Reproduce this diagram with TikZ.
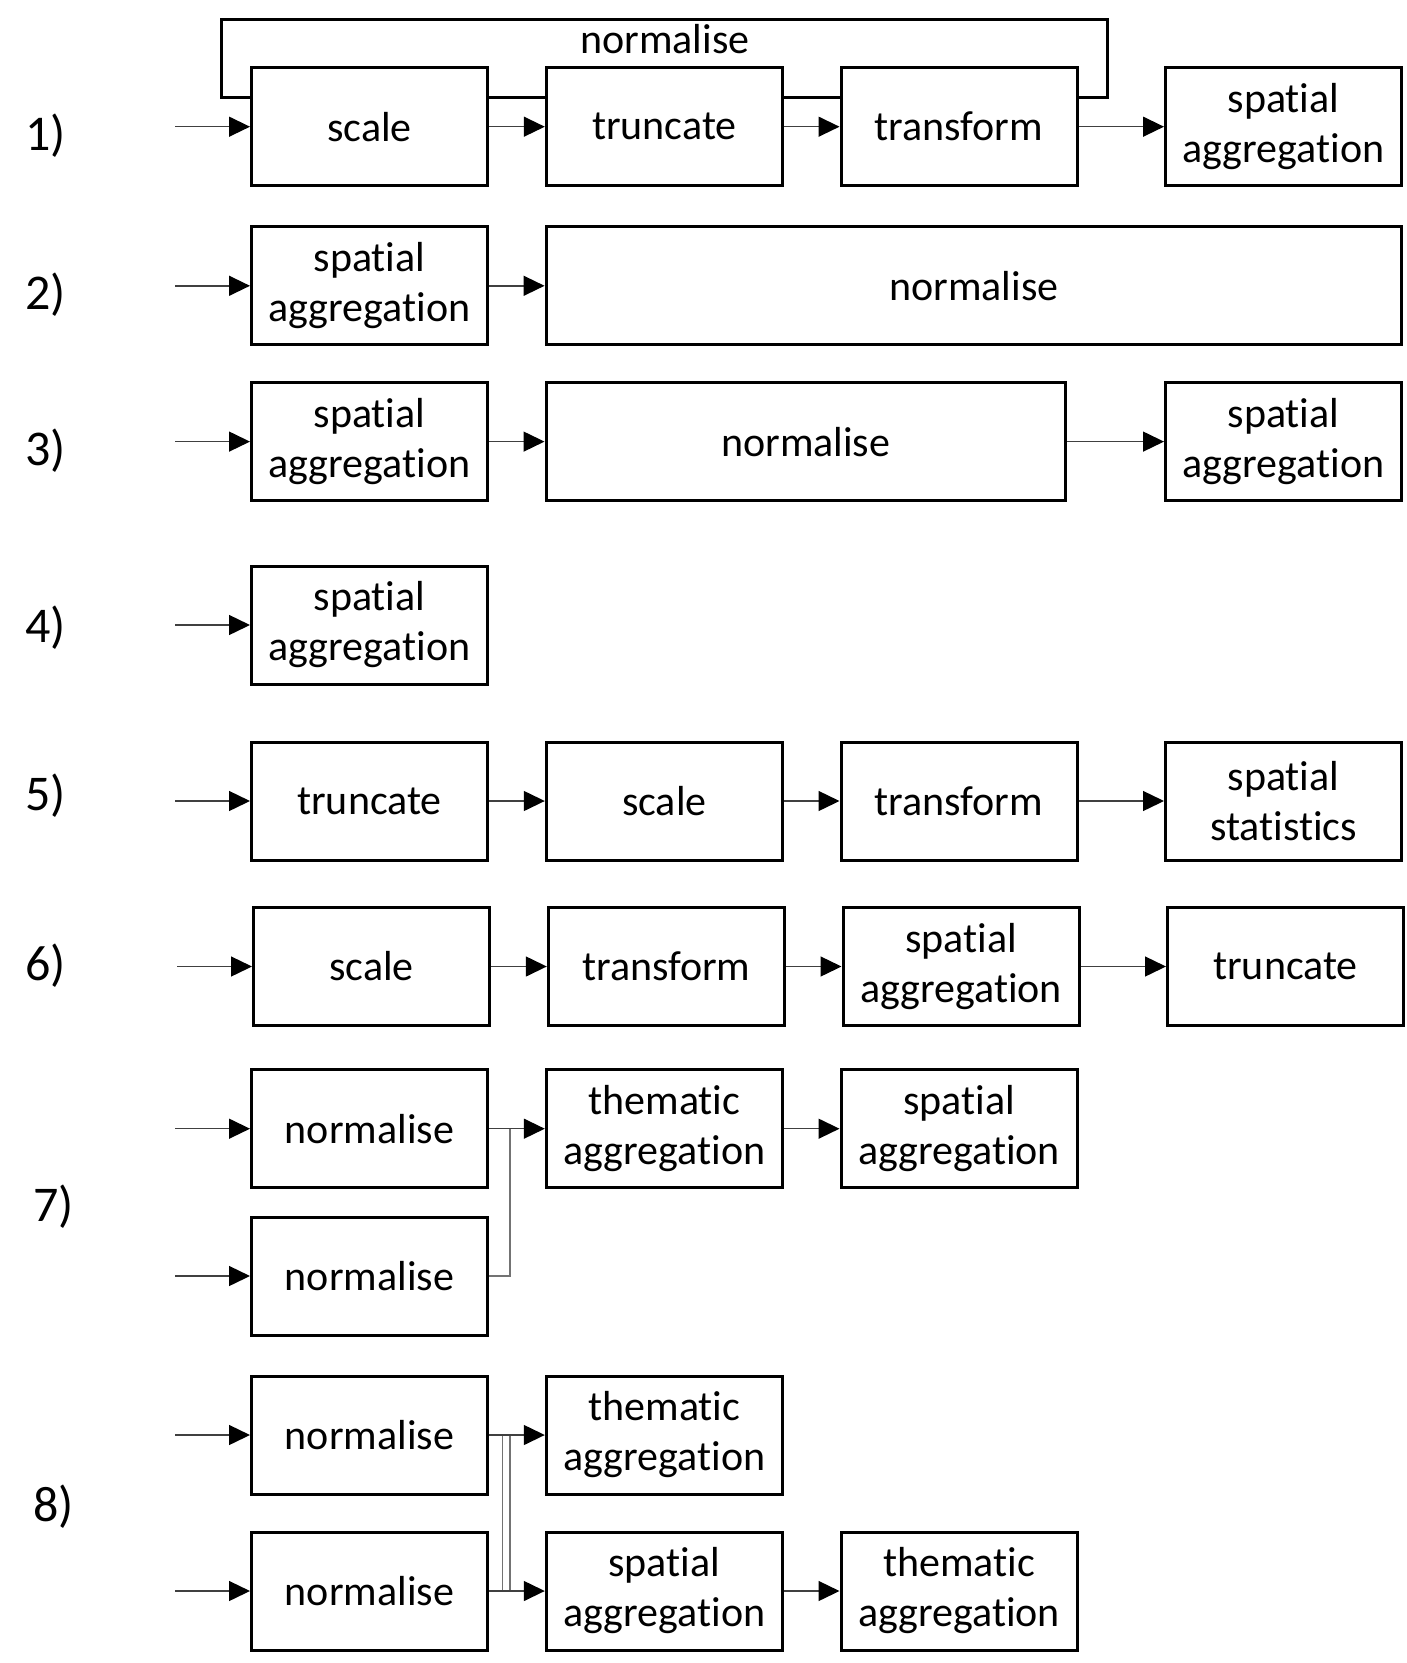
\documentclass[tikz,border=0pt]{standalone}
\usepackage{fontspec}
\setmainfont{Carlito}[Ligatures=NoCommon]
\usetikzlibrary{arrows.meta, positioning, calc}
\newcommand{\boxfont}{\fontsize{42}{50}\selectfont}
\newcommand{\labfont}{\fontsize{50}{60}\selectfont}
\tikzset{
  box/.style={draw, line width=3pt, fill=white, minimum width=236pt, minimum height=118pt,
    align=center, inner sep=0pt, font=\boxfont},
  link/.style={-{Triangle[length=21pt, width=20pt, color=black]}, line width=1.4pt, black!75},
  wire/.style={line width=1.4pt, black!55},
  rowlabel/.style={font=\labfont},
}

\begin{document}
\begin{tikzpicture}[x=1pt, y=-1pt]
  \useasboundingbox (0,0) rectangle (1406,1663);
  % Row labels
  \foreach \n/\x/\y in {1/45.6/136, 2/45.6/295, 3/45.6/451, 4/45.6/628,
      5/45.6/796, 6/45.6/966, 7/53.5/1207, 8/53.5/1507}
    \node[rowlabel] (lab\n) at (\x,\y) {\n)};
  % 1) normalise around the chain
  \node[draw, line width=3pt, minimum width=885.4pt, minimum height=78.5pt, inner sep=0pt]
    (norm1) at (664.3,58.25) {};
  \node[font=\boxfont] (norm1txt) at (665,39) {normalise};
  \node[box] (scale1) at (369.5,126.7) {scale};
  \node[box] (trunc1) at (664.3,126.7) {truncate};
  \node[box] (trans1) at (959,126.7) {transform};
  \node[box] (spat1) at (1283.5,126.7) {spatial\\aggregation};
  \coordinate (in1) at (175,126.7);
  \draw[link] (in1) -- (scale1);
  \draw[link] (scale1) -- (trunc1);
  \draw[link] (trunc1) -- (trans1);
  \draw[link] (trans1) -- (spat1);
  % 2)
  \node[box] (spat2) at (369.5,285.8) {spatial\\aggregation};
  \node[box, minimum width=855.7pt] (norm2) at (973.9,285.8) {normalise};
  \coordinate (in2) at (175,285.8);
  \draw[link] (in2) -- (spat2);
  \draw[link] (spat2) -- (norm2);
  % 3)
  \node[box] (spat3a) at (369.5,441.6) {spatial\\aggregation};
  \node[box, minimum width=519.6pt] (norm3) at (805.8,441.6) {normalise};
  \node[box] (spat3b) at (1283.5,441.6) {spatial\\aggregation};
  \coordinate (in3) at (175,441.6);
  \draw[link] (in3) -- (spat3a);
  \draw[link] (spat3a) -- (norm3);
  \draw[link] (norm3) -- (spat3b);
  % 4)
  \node[box] (spat4) at (369.5,625) {spatial\\aggregation};
  \coordinate (in4) at (175,625);
  \draw[link] (in4) -- (spat4);
  % 5)
  \node[box] (trunc5) at (369.5,801) {truncate};
  \node[box] (scale5) at (664.3,801) {scale};
  \node[box] (trans5) at (959,801) {transform};
  \node[box] (stat5) at (1283.5,801) {spatial\\statistics};
  \coordinate (in5) at (175,801);
  \draw[link] (in5) -- (trunc5);
  \draw[link] (trunc5) -- (scale5);
  \draw[link] (scale5) -- (trans5);
  \draw[link] (trans5) -- (stat5);
  % 6)
  \node[box] (scale6) at (371.5,966.5) {scale};
  \node[box] (trans6) at (666.3,966.5) {transform};
  \node[box] (spat6) at (961,966.5) {spatial\\aggregation};
  \node[box] (trunc6) at (1285.5,966.5) {truncate};
  \coordinate (in6) at (177,966.5);
  \draw[link] (in6) -- (scale6);
  \draw[link] (scale6) -- (trans6);
  \draw[link] (trans6) -- (spat6);
  \draw[link] (spat6) -- (trunc6);
  % 7) two inputs merged
  \node[box] (norm7a) at (369.5,1128.7) {normalise};
  \node[box] (norm7b) at (369.5,1276) {normalise};
  \node[box] (them7) at (664.3,1128.7) {thematic\\aggregation};
  \node[box] (spat7) at (959,1128.7) {spatial\\aggregation};
  \coordinate (in7a) at (175,1128.7);
  \coordinate (in7b) at (175,1276);
  \coordinate (j7) at (510,1128.7);
  \draw[link] (in7a) -- (norm7a);
  \draw[link] (in7b) -- (norm7b);
  \draw[wire] (norm7b.east) -| (j7);
  \draw[link] (norm7a) -- (them7);
  \draw[link] (them7) -- (spat7);
  % 8) crossed inputs
  \node[box] (norm8a) at (369.5,1435) {normalise};
  \node[box] (norm8b) at (369.5,1591) {normalise};
  \node[box] (them8a) at (664.3,1435) {thematic\\aggregation};
  \node[box] (spat8) at (664.3,1591) {spatial\\aggregation};
  \node[box] (them8b) at (959,1591) {thematic\\aggregation};
  \coordinate (in8a) at (175,1435);
  \coordinate (in8b) at (175,1591);
  \coordinate (x8a) at (502.6,1591);
  \coordinate (x8b) at (510,1435);
  \draw[link] (in8a) -- (norm8a);
  \draw[link] (in8b) -- (norm8b);
  \draw[wire] (norm8a.east) -| (x8a);
  \draw[wire] (norm8b.east) -| (x8b);
  \draw[link] (norm8a) -- (them8a);
  \draw[link] (norm8b) -- (spat8);
  \draw[link] (spat8) -- (them8b);
\end{tikzpicture}
\end{document}
